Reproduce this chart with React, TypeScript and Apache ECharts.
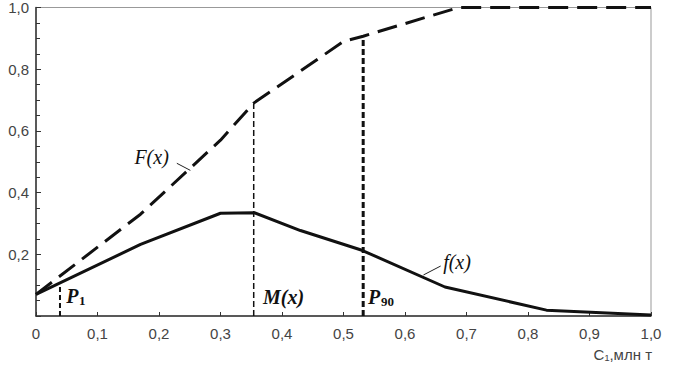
import React, { useEffect, useRef } from "react";
import * as echarts from "echarts";

const fX = [0, 0.17, 0.3, 0.355, 0.43, 0.53, 0.665, 0.83, 1.0];
const fY = [0.07, 0.232, 0.333, 0.335, 0.277, 0.213, 0.094, 0.019, 0.003];
const FX = [0, 0.17, 0.3, 0.354, 0.5, 0.532, 0.687, 1.0];
const FY = [0.07, 0.33, 0.57, 0.69, 0.89, 0.907, 1.0, 1.0];

const p1 = [0.039, 0.108];
const mx = [0.354, 0.69];
const p90 = [0.532, 0.907];

const xTicks = [0, 0.1, 0.2, 0.3, 0.4, 0.5, 0.6, 0.7, 0.8, 0.9, 1.0];
const yTicks = [0.2, 0.4, 0.6, 0.8, 1.0];

// annotation anchors (left edge, vertical middle) in data coordinates
const labels = [
  { main: "F(x)", sub: "", x: 0.16, y: 0.515, bold: false },
  { main: "f(x)", sub: "", x: 0.662, y: 0.175, bold: false },
  { main: "P", sub: "1", x: 0.049, y: 0.065, bold: true },
  { main: "M(x)", sub: "", x: 0.369, y: 0.062, bold: true },
  { main: "P", sub: "90", x: 0.54, y: 0.062, bold: true },
];
const leaderF = [[0.229, 0.495], [0.251, 0.472]];
const leaderf = [[0.658, 0.162], [0.63, 0.133]];

const fmt = (v: number) => (v === 0 ? "0" : v.toFixed(1).replace(".", ","));

export default function App() {
  const ref = useRef<HTMLDivElement>(null);
  useEffect(() => {
    if (!ref.current) return;
    const chart = echarts.init(ref.current, null, { renderer: "svg" });
    const serif = "'Liberation Serif', 'DejaVu Serif', serif";
    const sans = "'Liberation Sans', Arial, sans-serif";
    const vline = (p: number[], w: number, dash: number[]) => ({
      type: "line",
      data: [[p[0], 0], [p[0], p[1]]],
      symbol: "none",
      lineStyle: { color: "#111", width: w, type: dash },
      silent: true,
    });
    chart.setOption({
      animation: false,
      grid: { left: 36, right: 23, top: 7, bottom: 65, show: true, borderColor: "#999", borderWidth: 1 },
      xAxis: {
        type: "value",
        min: 0,
        max: 1,
        interval: 0.1,
        axisLine: { lineStyle: { color: "#333", width: 1.5 } },
        axisTick: { inside: true, length: 4, lineStyle: { color: "#333" } },
        axisLabel: {
          formatter: (v: number) => (xTicks.some((t) => Math.abs(t - v) < 1e-6) ? fmt(v) : ""),
          color: "#444",
          fontSize: 15,
          fontFamily: sans,
          margin: 10,
        },
        splitLine: { show: false },
      },
      yAxis: {
        type: "value",
        min: 0,
        max: 1,
        interval: 0.2,
        axisLine: { show: true, lineStyle: { color: "#333", width: 1.5 } },
        axisTick: { show: true, inside: true, length: 5, lineStyle: { color: "#333" } },
        minorTick: { show: true, splitNumber: 4, length: 4, lineStyle: { color: "#333" } },
        axisLabel: {
          formatter: (v: number) => (yTicks.some((t) => Math.abs(t - v) < 1e-6) ? fmt(v) : ""),
          color: "#444",
          fontSize: 15,
          fontFamily: sans,
          margin: 7,
        },
        splitLine: { show: false },
      },
      series: [
        vline(p1, 2, [5, 3]),
        vline(mx, 1.5, [6, 3]),
        vline(p90, 3, [6, 3]),
        {
          type: "line",
          data: FX.map((x, i) => [x, FY[i]]),
          symbol: "none",
          lineStyle: { color: "#111", width: 3, type: [20, 9] },
        },
        {
          type: "line",
          data: fX.map((x, i) => [x, fY[i]]),
          symbol: "none",
          lineStyle: { color: "#111", width: 3 },
        },
        { type: "line", data: leaderF, symbol: "none", lineStyle: { color: "#222", width: 1 } },
        { type: "line", data: leaderf, symbol: "none", lineStyle: { color: "#222", width: 1 } },
      ],
    });

    const els: any[] = [];
    labels.forEach((l) => {
      const [px, py] = chart.convertToPixel({ gridIndex: 0 }, [l.x, l.y]) as number[];
      const fontSize = l.bold ? 20 : 20;
      els.push({
        type: "text",
        x: px,
        y: py,
        silent: true,
        style: {
          text: l.main,
          fontFamily: serif,
          fontStyle: "italic",
          fontWeight: l.bold ? "bold" : "normal",
          fontSize,
          fill: "#111",
          textAlign: "left",
          textVerticalAlign: "middle",
        },
      });
      if (l.sub) {
        const mainW = fontSize * 0.62;
        els.push({
          type: "text",
          x: px + mainW + 0.5,
          y: py + 5,
          silent: true,
          style: {
            text: l.sub,
            fontFamily: serif,
            fontWeight: "bold",
            fontSize: 13,
            fill: "#111",
            textAlign: "left",
            textVerticalAlign: "middle",
          },
        });
      }
    });
    els.push({
      type: "text",
      right: 22,
      top: 347,
      style: { text: "C\u2081,млн т", fontSize: 15, fill: "#444", fontFamily: sans },
    });
    chart.setOption({ graphic: els });
    return () => chart.dispose();
  }, []);
  return <div ref={ref} style={{ width: 674, height: 381, position: "absolute", left: 0, top: 0 }} />;
}
